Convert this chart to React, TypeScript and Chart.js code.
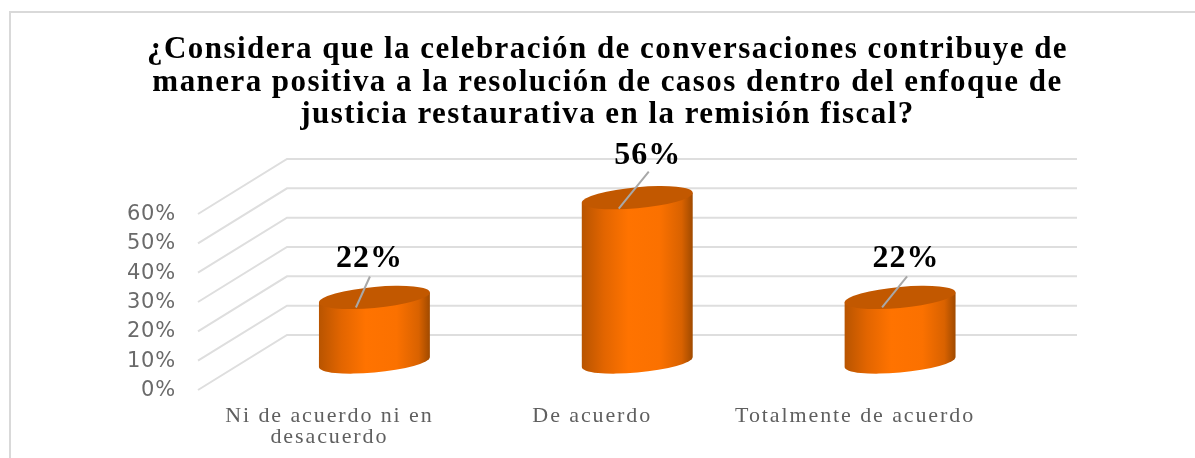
import React, { useEffect, useRef } from "react";
import { Chart, registerables } from "chart.js";

Chart.register(...registerables);

const titleLines = [
  "¿Considera que la celebración de conversaciones contribuye de",
  "manera positiva a la resolución de casos dentro del enfoque de",
  "justicia restaurativa en la remisión fiscal?",
];
const categories = [["Ni de acuerdo ni en", "desacuerdo"], ["De acuerdo"], ["Totalmente de acuerdo"]];
const values = [22, 56, 22];
const yTicks = [0, 10, 20, 30, 40, 50, 60];

const GRID = "#dedede";
const shear = 0.09;
const leaderStart = [[-18.5, 10], [-18.5, 11], [-18, 10]];
const leaderEnd = [[-4.5, -21], [11.5, -26], [7, -21]];
const labelPos = [[-5, -39], [10.5, -42], [6, -39]];

function spaced(s: any, spacing: string) {
  if (s.__spaced) return;
  s.__spaced = true;
  const orig = s.drawLabels;
  s.drawLabels = function (area: any) {
    const ctx = this.ctx;
    ctx.save();
    ctx.letterSpacing = spacing;
    orig.call(this, area);
    ctx.restore();
  };
}

const cylinderPlugin = {
  id: "cylinder",
  beforeDraw(chart: any) {
    chart.ctx.letterSpacing = "1.45px";
  },
  beforeDatasetsDraw(chart: any) {
    const { ctx, chartArea, scales } = chart;
    ctx.save();
    ctx.strokeStyle = GRID;
    ctx.lineWidth = 2;
    yTicks.forEach((v) => {
      const py = scales.y.getPixelForValue(v);
      ctx.beginPath();
      ctx.moveTo(chartArea.left - 45, py + 28);
      ctx.lineTo(chartArea.left + 44, py - 27);
      ctx.lineTo(chartArea.right + 45.5, py - 27);
      ctx.stroke();
    });
    ctx.restore();
  },
  beforeDatasetDraw(chart: any, args: any) {
    const { ctx } = chart;
    const meta = chart.getDatasetMeta(args.index);
    meta.data.forEach((el: any, i: number) => {
      const rx = el.width / 2;
      const ry = 10.5;
      ctx.save();
      ctx.translate(el.x, 0);
      ctx.transform(1, -shear, 0, 1, 0, 0);
      const g = ctx.createLinearGradient(-rx, 0, rx, 0);
      g.addColorStop(0, "#b85400");
      g.addColorStop(0.2, "#e26500");
      g.addColorStop(0.42, "#ff7300");
      g.addColorStop(0.7, "#fb7100");
      g.addColorStop(0.9, "#d96200");
      g.addColorStop(1, "#a04a00");
      ctx.fillStyle = g;
      ctx.beginPath();
      ctx.moveTo(-rx, el.y);
      ctx.lineTo(-rx, el.base);
      ctx.ellipse(0, el.base, rx, ry, 0, Math.PI, 0, true);
      ctx.lineTo(rx, el.y);
      ctx.closePath();
      ctx.fill();
      ctx.fillStyle = "#c25800";
      ctx.beginPath();
      ctx.ellipse(0, el.y, rx, ry, 0, 0, Math.PI * 2);
      ctx.fill();
      ctx.restore();

      ctx.save();
      ctx.strokeStyle = "#a8a8a8";
      ctx.lineWidth = 2;
      ctx.beginPath();
      ctx.moveTo(el.x + leaderStart[i][0], el.y + leaderStart[i][1]);
      ctx.lineTo(el.x + leaderEnd[i][0], el.y + leaderEnd[i][1]);
      ctx.stroke();
      ctx.fillStyle = "#000000";
      ctx.font = "bold 32px 'Liberation Serif'";
      ctx.letterSpacing = "1px";
      ctx.textAlign = "center";
      ctx.textBaseline = "middle";
      ctx.fillText(`${values[i]}%`, el.x + labelPos[i][0], el.y + labelPos[i][1]);
      ctx.restore();
    });
    return false;
  },
};

export default function App() {
  const ref = useRef<HTMLCanvasElement>(null);
  useEffect(() => {
    const chart = new Chart(ref.current!, {
      type: "bar",
      data: {
        labels: categories as any,
        datasets: [{ data: values, backgroundColor: "#ff7300", categoryPercentage: 0.422, barPercentage: 1 }],
      },
      options: {
        animation: false,
        responsive: false,
        layout: { padding: { left: 20, right: 0, top: 0, bottom: 0 } },
        plugins: {
          legend: { display: false },
          tooltip: { enabled: false },
          title: {
            display: true,
            text: titleLines,
            color: "#000000",
            font: { family: "'Liberation Serif'", size: 31, weight: "bold", lineHeight: 32.7 / 31 },
            padding: { top: 33.5, bottom: 54.4 },
          },
        },
        scales: {
          x: {
            grid: { display: false },
            border: { display: false },
            afterFit: (s: any) => { s.height = 96; spaced(s, "1.9px"); },
            ticks: {
              color: "#5f5f5f",
              font: { family: "'Liberation Serif'", size: 22, lineHeight: 0.96 },
              padding: 36,
              labelOffset: -45,
              maxRotation: 0,
              autoSkip: false,
            },
          },
          y: {
            min: 0,
            max: 60,
            grid: { display: false },
            border: { display: false },
            afterFit: (s: any) => { s.width = 223; spaced(s, "0.8px"); },
            afterBuildTicks: (s: any) => { s.ticks = yTicks.map((value) => ({ value })); },
            ticks: {
              color: "#6a6a6a",
              font: { family: "'DejaVu Sans'", size: 21 },
              padding: 59,
              labelOffset: 28.5,
              callback: (v: any) => `${v}%`,
            },
          },
          spacer: {
            position: "right",
            grid: { display: false },
            border: { display: false },
            ticks: { display: false },
            afterFit: (s: any) => { s.width = 163.5; },
          },
        },
      } as any,
      plugins: [cylinderPlugin],
    });
    return () => chart.destroy();
  }, []);
  return (
    <div style={{ position: "absolute", left: 0, top: 0, width: 1195, height: 458, background: "#fff", overflow: "hidden" }}>
      <div style={{ position: "absolute", left: 9, top: 11, right: -5, bottom: -5, border: "2px solid #d9d9d9" }} />
      <canvas ref={ref} width={1195} height={458} style={{ position: "absolute", left: 0, top: 0, display: "block", filter: "blur(0.5px)" }} />
    </div>
  );
}
